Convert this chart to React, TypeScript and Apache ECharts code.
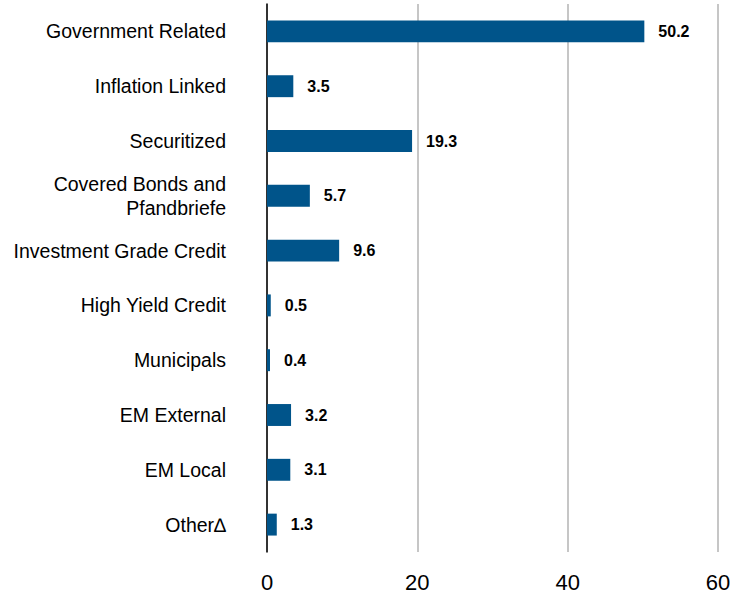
import React, { useEffect, useRef } from "react";
import * as echarts from "echarts";

const categories = [
  "Government Related",
  "Inflation Linked",
  "Securitized",
  "Covered Bonds and\nPfandbriefe",
  "Investment Grade Credit",
  "High Yield Credit",
  "Municipals",
  "EM External",
  "EM Local",
  "Other∆",
];
const values = [50.2, 3.5, 19.3, 5.7, 9.6, 0.5, 0.4, 3.2, 3.1, 1.3];
const xTicks = [0, 20, 40, 60];

const FONT = "'Liberation Sans', Arial, sans-serif";

export default function App() {
  const ref = useRef<HTMLDivElement>(null);
  useEffect(() => {
    if (!ref.current) return;
    const chart = echarts.init(ref.current, null, { renderer: "svg" });
    chart.setOption({
      animation: false,
      grid: { left: 267, right: 19, top: 4, bottom: 42, containLabel: false },
      xAxis: {
        type: "value",
        min: xTicks[0],
        max: xTicks[xTicks.length - 1],
        interval: 20,
        axisLine: { show: false },
        axisTick: { show: false },
        splitLine: { show: true, lineStyle: { color: "#b3b3b3", width: 1.5 } },
        axisLabel: {
          fontFamily: FONT,
          fontSize: 22,
          color: "#000",
          margin: 19,
        },
      },
      yAxis: {
        type: "category",
        inverse: true,
        data: categories,
        axisLine: { show: true, lineStyle: { color: "#000", width: 1.5 } },
        axisTick: { show: false },
        axisLabel: {
          fontFamily: FONT,
          fontSize: 19.5,
          color: "#000",
          margin: 41,
          lineHeight: 24,
          align: "right",
        },
      },
      series: [
        {
          type: "bar",
          data: values,
          barCategoryGap: "60%",
          itemStyle: { color: "#00548a" },
          label: {
            show: true,
            position: "right",
            distance: 14,
            fontFamily: FONT,
            fontWeight: "bold",
            fontSize: 16,
            color: "#000",
            formatter: (p: any) => p.value.toFixed(1),
          },
        },
      ],
    });
    return () => chart.dispose();
  }, []);
  return <div ref={ref} style={{ width: 737, height: 594, position: "absolute", left: 0, top: 0 }} />;
}
